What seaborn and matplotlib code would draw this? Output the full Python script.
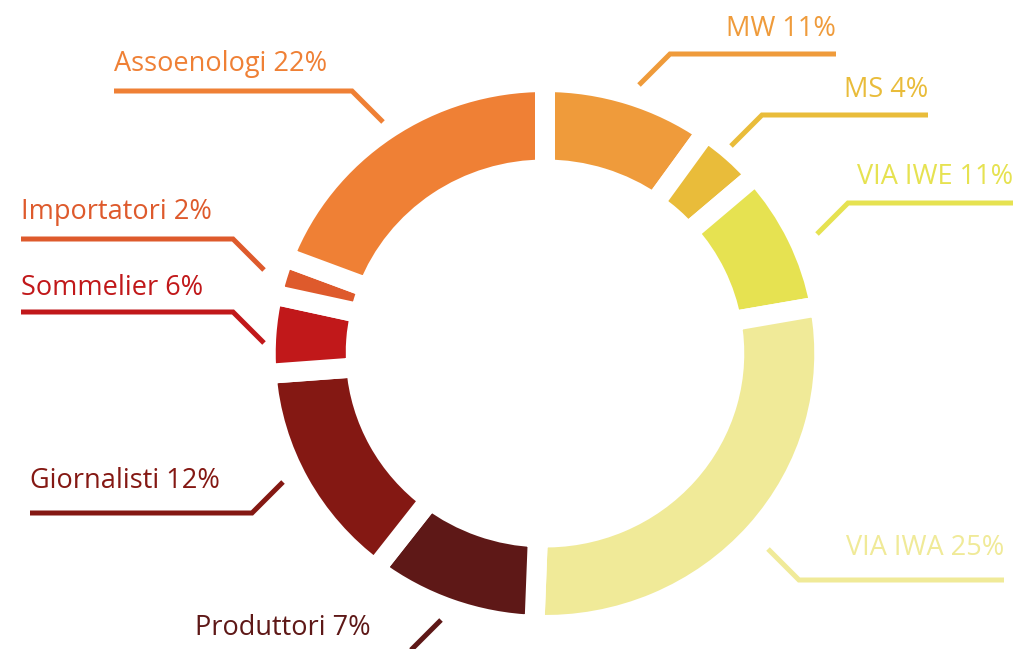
import numpy as np
import matplotlib
matplotlib.use("Agg")
import matplotlib.pyplot as plt
import seaborn as sns

# ================= DATI =================
categorie = ["MW", "MS", "VIA IWE", "VIA IWA", "Produttori",
             "Giornalisti", "Sommelier", "Importatori", "Assoenologi"]
percentuali = [11, 4, 11, 25, 7, 12, 6, 2, 22]          # testo delle etichette
quote_spicchi = [9.8, 3.8, 8.6, 28.4, 9.8, 13.4, 4.7, 2.3, 19.2]  # ampiezza disegnata
colori_hex = ["#EF9B3B", "#E9BC3A", "#E6E251", "#F0EA98", "#5E1817",
              "#841813", "#C1181A", "#DE5A2C", "#EF8035"]

# ================= LAYOUT (pixel, y dall'alto) =================
W, H = 1018, 649
CX, CY = 545, H - 353.5
R_OUT, LARGHEZZA = 271.5, 87.5
STRETCH = 1.0286          # la ciambella e' leggermente allargata in orizzontale
DIAG = 31
# gomito della linea guida (x, y), fine della linea orizzontale, baseline del testo
gomito = [(670, 54), (762, 115), (848, 203), (799, 580), (410, 651),
          (252, 513), (233, 312), (233, 239), (352, 91)]
fine_linea_x = [836, 928, 1013, 1004, 195, 30, 21, 21, 114]
baseline_y = [36, 97, 184, 555, 635, 488, 295, 219, 71]

sns.set_theme(style="white")
plt.rcParams["font.family"] = ["Open Sans", "DejaVu Sans"]
palette = sns.color_palette(colori_hex)

fig = plt.figure(figsize=(W / 100, H / 100), dpi=100)
ax = fig.add_axes([0, 0, 1, 1])

ax.pie(quote_spicchi, colors=palette, startangle=90, counterclock=False,
       radius=R_OUT, center=(CX, CY), frame=True,
       wedgeprops=dict(width=LARGHEZZA, edgecolor="white", linewidth=14.4))
ax.set_aspect("auto")
ax.set_xlim(CX - CX / STRETCH, CX + (W - CX) / STRETCH)
ax.set_ylim(0, H)
ax.axis("off")

# secondo asse in pixel per linee guida ed etichette
ax_txt = fig.add_axes([0, 0, 1, 1])
ax_txt.set_xlim(0, W)
ax_txt.set_ylim(H, 0)
ax_txt.axis("off")
ax_txt.patch.set_alpha(0)

cum = np.cumsum([0] + quote_spicchi)
for i, nome in enumerate(categorie):
    theta = np.deg2rad((cum[i] + cum[i + 1]) / 2 * 3.6)
    sx = 1 if np.sin(theta) > 0 else -1      # lato destro / sinistro
    sy = 1 if np.cos(theta) > 0 else -1      # meta' alta / bassa
    gx, gy = gomito[i]
    x0, y0 = gx - sx * DIAG, gy + sy * DIAG
    ax_txt.plot([x0, gx, fine_linea_x[i]], [y0, gy, gy], color=palette[i],
                lw=3.6, solid_capstyle="butt", solid_joinstyle="miter")
    ax_txt.text(fine_linea_x[i], baseline_y[i], f"{nome} {percentuali[i]}%",
                color=palette[i], fontsize=19.5,
                ha="right" if sx > 0 else "left", va="baseline")

fig.savefig("out.png", dpi=100, facecolor="white")
